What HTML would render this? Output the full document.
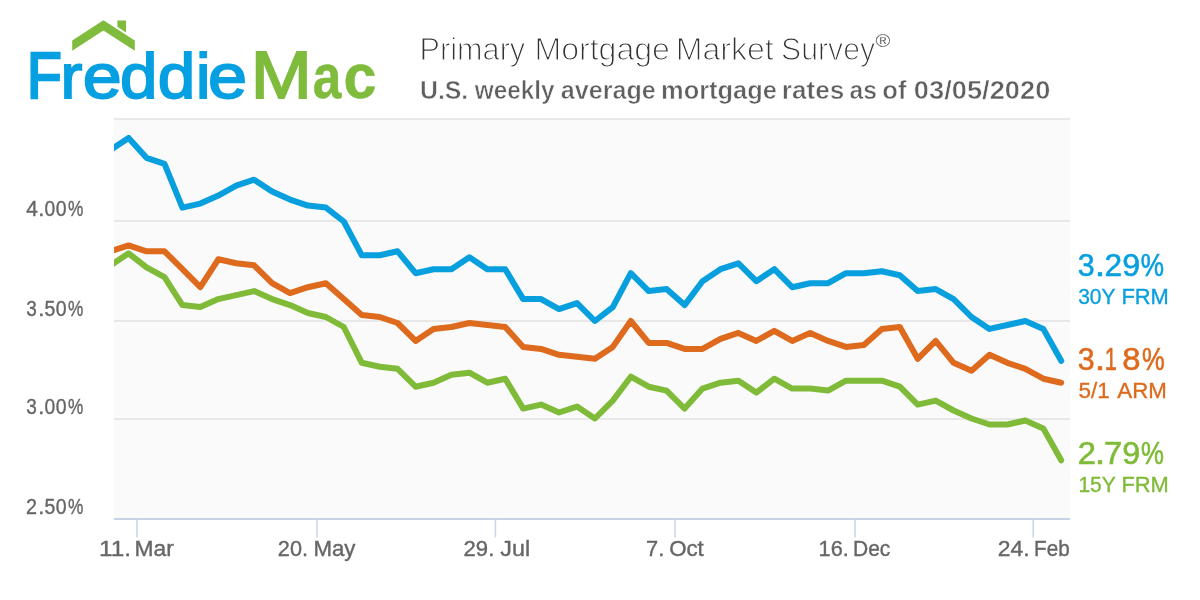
<!DOCTYPE html>
<html lang="en"><head><meta charset="utf-8"><title>Freddie Mac Primary Mortgage Market Survey</title>
<style>html,body{margin:0;padding:0;background:#fff;overflow:hidden}svg{display:block}</style>
</head><body>
<svg width="1200" height="600" viewBox="0 0 1200 600" font-family="'Liberation Sans', Arial, sans-serif">
<rect width="1200" height="600" fill="#fff"/>
<g style="filter:opacity(1)">
<rect x="114" y="119" width="956" height="400" fill="#fafafa"/>
<rect x="114" y="118.2" width="956" height="1.6" fill="#e4e4e4"/>
<rect x="114" y="220.2" width="956" height="1.6" fill="#e4e4e4"/>
<rect x="114" y="320.2" width="956" height="1.6" fill="#e4e4e4"/>
<rect x="114" y="418.2" width="956" height="1.6" fill="#e4e4e4"/>
<rect x="114" y="518" width="956" height="2" fill="#c6d2e6"/>
<rect x="136.2" y="519" width="1.6" height="18.5" fill="#cdd6ea"/>
<rect x="316.2" y="519" width="1.6" height="18.5" fill="#cdd6ea"/>
<rect x="494.6" y="519" width="1.6" height="18.5" fill="#cdd6ea"/>
<rect x="674.2" y="519" width="1.6" height="18.5" fill="#cdd6ea"/>
<rect x="854.2" y="519" width="1.6" height="18.5" fill="#cdd6ea"/>
<rect x="1032.4" y="519" width="1.6" height="18.5" fill="#cdd6ea"/>
<defs><clipPath id="pc"><rect x="114" y="100" width="960" height="430"/></clipPath></defs>
<g clip-path="url(#pc)" fill="none" stroke-width="6" stroke-linejoin="round" stroke-linecap="round">
<path d="M110.7 265.3 L128.6 253.3 L146.5 267.3 L164.5 277.2 L182.4 305.1 L200.3 307.1 L218.3 299.1 L236.2 295.1 L254.1 291.1 L272.1 299.1 L290.0 305.1 L307.9 313.0 L325.9 317.0 L343.8 327.0 L361.8 362.8 L379.7 366.8 L397.6 368.8 L415.6 386.7 L433.5 382.7 L451.4 374.7 L469.4 372.7 L487.3 382.7 L505.2 378.7 L523.2 408.6 L541.1 404.6 L559.0 412.5 L577.0 406.6 L594.9 418.5 L612.8 400.6 L630.8 376.7 L648.7 386.7 L666.6 390.6 L684.6 408.6 L702.5 388.6 L720.5 382.7 L738.4 380.7 L756.3 392.6 L774.3 378.7 L792.2 388.6 L810.1 388.6 L828.1 390.6 L846.0 380.7 L863.9 380.7 L881.9 380.7 L899.8 386.7 L917.7 404.6 L935.7 400.6 L953.6 410.5 L971.5 418.5 L989.5 424.5 L1007.4 424.5 L1025.3 420.5 L1043.3 428.4 L1061.2 460.3" stroke="#7fbb38"/>
<path d="M110.7 251.3 L128.6 245.4 L146.5 251.3 L164.5 251.3 L182.4 269.2 L200.3 287.2 L218.3 259.3 L236.2 263.3 L254.1 265.3 L272.1 283.2 L290.0 293.1 L307.9 287.2 L325.9 283.2 L343.8 299.1 L361.8 315.0 L379.7 317.0 L397.6 323.0 L415.6 340.9 L433.5 328.9 L451.4 327.0 L469.4 323.0 L487.3 325.0 L505.2 327.0 L523.2 346.9 L541.1 348.9 L559.0 354.8 L577.0 356.8 L594.9 358.8 L612.8 346.9 L630.8 321.0 L648.7 342.9 L666.6 342.9 L684.6 348.9 L702.5 348.9 L720.5 338.9 L738.4 332.9 L756.3 340.9 L774.3 330.9 L792.2 340.9 L810.1 332.9 L828.1 340.9 L846.0 346.9 L863.9 344.9 L881.9 328.9 L899.8 327.0 L917.7 358.8 L935.7 340.9 L953.6 362.8 L971.5 370.7 L989.5 354.8 L1007.4 362.8 L1025.3 368.8 L1043.3 378.7 L1061.2 382.7" stroke="#de6a1d"/>
<path d="M110.7 149.9 L128.6 137.9 L146.5 157.8 L164.5 163.8 L182.4 207.6 L200.3 203.6 L218.3 195.6 L236.2 185.7 L254.1 179.7 L272.1 191.6 L290.0 199.6 L307.9 205.6 L325.9 207.6 L343.8 221.5 L361.8 255.3 L379.7 255.3 L397.6 251.3 L415.6 273.2 L433.5 269.2 L451.4 269.2 L469.4 257.3 L487.3 269.2 L505.2 269.2 L523.2 299.1 L541.1 299.1 L559.0 309.1 L577.0 303.1 L594.9 321.0 L612.8 307.1 L630.8 273.2 L648.7 291.1 L666.6 289.1 L684.6 305.1 L702.5 281.2 L720.5 269.2 L738.4 263.3 L756.3 281.2 L774.3 269.2 L792.2 287.2 L810.1 283.2 L828.1 283.2 L846.0 273.2 L863.9 273.2 L881.9 271.2 L899.8 275.2 L917.7 291.1 L935.7 289.1 L953.6 299.1 L971.5 317.0 L989.5 328.9 L1007.4 325.0 L1025.3 321.0 L1043.3 328.9 L1061.2 360.8" stroke="#089fdf"/>
</g>
<text y="555.7" font-size="22.8" fill="#666" stroke="#666" stroke-width="0.4"><tspan x="98.94" textLength="32.08" lengthAdjust="spacingAndGlyphs">11.</tspan> <tspan x="134.58" textLength="39.35" lengthAdjust="spacingAndGlyphs">Mar</tspan></text>
<text y="555.7" font-size="22.8" fill="#666" stroke="#666" stroke-width="0.4"><tspan x="277.86" textLength="30.17" lengthAdjust="spacingAndGlyphs">20.</tspan> <tspan x="313.38" textLength="41.97" lengthAdjust="spacingAndGlyphs">May</tspan></text>
<text y="555.7" font-size="22.8" fill="#666" stroke="#666" stroke-width="0.4"><tspan x="463.59" textLength="30.73" lengthAdjust="spacingAndGlyphs">29.</tspan> <tspan x="500.34" textLength="29.77" lengthAdjust="spacingAndGlyphs">Jul</tspan></text>
<text y="555.7" font-size="22.8" fill="#666" stroke="#666" stroke-width="0.4"><tspan x="646.08" textLength="18.21" lengthAdjust="spacingAndGlyphs">7.</tspan> <tspan x="669.15" textLength="34.57" lengthAdjust="spacingAndGlyphs">Oct</tspan></text>
<text y="555.7" font-size="22.8" fill="#666" stroke="#666" stroke-width="0.4"><tspan x="818.54" textLength="30.24" lengthAdjust="spacingAndGlyphs">16.</tspan> <tspan x="852.98" textLength="37.38" lengthAdjust="spacingAndGlyphs">Dec</tspan></text>
<text y="555.7" font-size="22.8" fill="#666" stroke="#666" stroke-width="0.4"><tspan x="997.80" textLength="31.84" lengthAdjust="spacingAndGlyphs">24.</tspan> <tspan x="1034.11" textLength="35.56" lengthAdjust="spacingAndGlyphs">Feb</tspan></text>
<text y="215.8" font-size="22.8" fill="#666" stroke="#666" stroke-width="0.4"><tspan x="26.32" textLength="11.59" lengthAdjust="spacingAndGlyphs">4</tspan><tspan x="38.19" textLength="6.11" lengthAdjust="spacingAndGlyphs">.</tspan><tspan x="44.45" textLength="10.70" lengthAdjust="spacingAndGlyphs">0</tspan><tspan x="55.74" textLength="10.82" lengthAdjust="spacingAndGlyphs">0</tspan><tspan x="68.09" textLength="15.33" lengthAdjust="spacingAndGlyphs">%</tspan></text>
<text y="315.8" font-size="22.8" fill="#666" stroke="#666" stroke-width="0.4"><tspan x="26.28" textLength="10.56" lengthAdjust="spacingAndGlyphs">3</tspan><tspan x="38.19" textLength="6.11" lengthAdjust="spacingAndGlyphs">.</tspan><tspan x="44.42" textLength="10.79" lengthAdjust="spacingAndGlyphs">5</tspan><tspan x="55.74" textLength="10.82" lengthAdjust="spacingAndGlyphs">0</tspan><tspan x="68.09" textLength="15.33" lengthAdjust="spacingAndGlyphs">%</tspan></text>
<text y="413.8" font-size="22.8" fill="#666" stroke="#666" stroke-width="0.4"><tspan x="26.28" textLength="10.56" lengthAdjust="spacingAndGlyphs">3</tspan><tspan x="38.19" textLength="6.11" lengthAdjust="spacingAndGlyphs">.</tspan><tspan x="44.45" textLength="10.70" lengthAdjust="spacingAndGlyphs">0</tspan><tspan x="55.74" textLength="10.82" lengthAdjust="spacingAndGlyphs">0</tspan><tspan x="68.09" textLength="15.33" lengthAdjust="spacingAndGlyphs">%</tspan></text>
<text y="514.0" font-size="22.8" fill="#666" stroke="#666" stroke-width="0.4"><tspan x="26.01" textLength="10.99" lengthAdjust="spacingAndGlyphs">2</tspan><tspan x="38.19" textLength="6.11" lengthAdjust="spacingAndGlyphs">.</tspan><tspan x="44.42" textLength="10.79" lengthAdjust="spacingAndGlyphs">5</tspan><tspan x="55.74" textLength="10.82" lengthAdjust="spacingAndGlyphs">0</tspan><tspan x="68.09" textLength="15.33" lengthAdjust="spacingAndGlyphs">%</tspan></text>
<text y="275.8" font-size="30.6" fill="#089fdf" stroke="#089fdf" stroke-width="0.6"><tspan x="1077.64" textLength="16.89" lengthAdjust="spacingAndGlyphs">3</tspan><tspan x="1094.85" textLength="10.51" lengthAdjust="spacingAndGlyphs">.</tspan><tspan x="1104.51" textLength="17.58" lengthAdjust="spacingAndGlyphs">2</tspan><tspan x="1122.29" textLength="17.94" lengthAdjust="spacingAndGlyphs">9</tspan><tspan x="1140.87" textLength="23.27" lengthAdjust="spacingAndGlyphs">%</tspan></text>
<text y="303.8" font-size="22.4" fill="#089fdf" stroke="#089fdf" stroke-width="0.35"><tspan x="1078.18" textLength="36.90" lengthAdjust="spacingAndGlyphs">30Y</tspan> <tspan x="1121.38" textLength="47.45" lengthAdjust="spacingAndGlyphs">FRM</tspan></text>
<text y="369.7" font-size="30.6" fill="#de6a1d" stroke="#de6a1d" stroke-width="0.6"><tspan x="1077.64" textLength="16.89" lengthAdjust="spacingAndGlyphs">3</tspan><tspan x="1094.85" textLength="10.51" lengthAdjust="spacingAndGlyphs">.</tspan><tspan x="1104.84" textLength="12.13" lengthAdjust="spacingAndGlyphs">1</tspan><tspan x="1122.37" textLength="18.25" lengthAdjust="spacingAndGlyphs">8</tspan><tspan x="1141.89" textLength="22.72" lengthAdjust="spacingAndGlyphs">%</tspan></text>
<text y="397.8" font-size="22.4" fill="#de6a1d" stroke="#de6a1d" stroke-width="0.35"><tspan x="1078.48" textLength="31.25" lengthAdjust="spacingAndGlyphs">5/1</tspan> <tspan x="1117.33" textLength="49.52" lengthAdjust="spacingAndGlyphs">ARM</tspan></text>
<text y="463.5" font-size="30.6" fill="#7fbb38" stroke="#7fbb38" stroke-width="0.6"><tspan x="1077.65" textLength="18.19" lengthAdjust="spacingAndGlyphs">2</tspan><tspan x="1094.85" textLength="10.51" lengthAdjust="spacingAndGlyphs">.</tspan><tspan x="1104.12" textLength="18.23" lengthAdjust="spacingAndGlyphs">7</tspan><tspan x="1122.29" textLength="17.94" lengthAdjust="spacingAndGlyphs">9</tspan><tspan x="1140.88" textLength="22.94" lengthAdjust="spacingAndGlyphs">%</tspan></text>
<text y="491.9" font-size="22.4" fill="#7fbb38" stroke="#7fbb38" stroke-width="0.35"><tspan x="1078.39" textLength="37.10" lengthAdjust="spacingAndGlyphs">15Y</tspan> <tspan x="1121.38" textLength="47.45" lengthAdjust="spacingAndGlyphs">FRM</tspan></text>
<text y="59.7" font-size="31.5" fill="#333" stroke="#fff" stroke-width="1.15"><tspan x="419.53" textLength="105.68" lengthAdjust="spacingAndGlyphs">Primary</tspan> <tspan x="534.42" textLength="135.56" lengthAdjust="spacingAndGlyphs">Mortgage</tspan> <tspan x="675.82" textLength="97.96" lengthAdjust="spacingAndGlyphs">Market</tspan> <tspan x="781.08" textLength="93.93" lengthAdjust="spacingAndGlyphs">Survey</tspan></text>
<text y="47" font-size="19" fill="#333" stroke="#fff" stroke-width="0.2"><tspan x="875.60" textLength="14.82" lengthAdjust="spacingAndGlyphs">®</tspan></text>
<text y="99.4" font-size="25.8" font-weight="bold" fill="#5f5f5f" stroke="#fff" stroke-width="0.55"><tspan x="419.96" textLength="48.30" lengthAdjust="spacingAndGlyphs">U.S.</tspan> <tspan x="474.82" textLength="79.76" lengthAdjust="spacingAndGlyphs">weekly</tspan> <tspan x="560.71" textLength="95.10" lengthAdjust="spacingAndGlyphs">average</tspan> <tspan x="661.07" textLength="115.85" lengthAdjust="spacingAndGlyphs">mortgage</tspan> <tspan x="781.72" textLength="62.60" lengthAdjust="spacingAndGlyphs">rates</tspan> <tspan x="849.53" textLength="27.49" lengthAdjust="spacingAndGlyphs">as</tspan> <tspan x="882.35" textLength="24.25" lengthAdjust="spacingAndGlyphs">of</tspan> <tspan x="913.87" textLength="136.50" lengthAdjust="spacingAndGlyphs">03/05/2020</tspan></text>
<polygon points="72.2,50.8 72.2,40.4 103.4,20.2 134.8,40.4 134.8,50.8 103.4,30.6" fill="#7fbb3c"/><polygon points="117.4,20.4 126,20.4 126,32.4 117.4,26.8" fill="#7fbb3c"/>
<text y="98" font-size="63.5" fill="#06a0e2" stroke="#06a0e2" stroke-width="1.8" stroke-linejoin="miter"><tspan x="26.89" font-size="64.6" stroke-width="2.6" textLength="34.68" lengthAdjust="spacingAndGlyphs">F</tspan><tspan x="60.53" textLength="21.91" lengthAdjust="spacingAndGlyphs">r</tspan><tspan x="82.68" textLength="38.93" lengthAdjust="spacingAndGlyphs">e</tspan><tspan x="119.97" textLength="37.47" lengthAdjust="spacingAndGlyphs">d</tspan><tspan x="157.82" textLength="37.53" lengthAdjust="spacingAndGlyphs">d</tspan><tspan x="195.96" textLength="14.41" lengthAdjust="spacingAndGlyphs">i</tspan><tspan x="207.92" textLength="39.05" lengthAdjust="spacingAndGlyphs">e</tspan></text>
<text y="98" font-size="63.5" fill="#7fbb3c" stroke="#7fbb3c" stroke-width="1.8" stroke-linejoin="miter"><tspan x="250.88" font-size="65.8" textLength="61.14" lengthAdjust="spacingAndGlyphs">M</tspan><tspan x="312.74" font-size="63.0" font-weight="bold" stroke-width="0.5" textLength="28.58" lengthAdjust="spacingAndGlyphs">a</tspan><tspan x="343.54" font-size="63.0" font-weight="bold" stroke-width="0.5" textLength="32.95" lengthAdjust="spacingAndGlyphs">c</tspan></text>
</g>
</svg>
</body></html>
